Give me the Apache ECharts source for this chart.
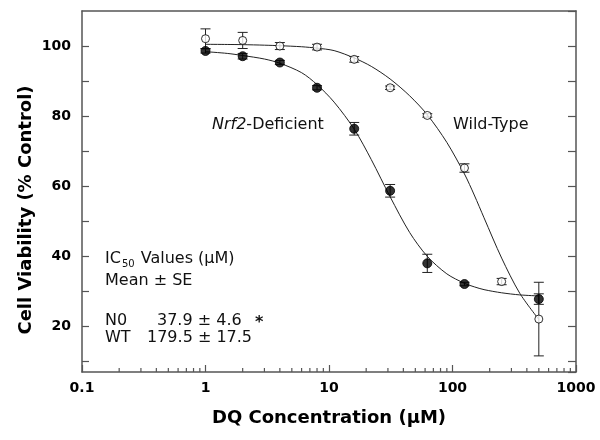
<!DOCTYPE html>
<html><head><meta charset="utf-8">
<script src="https://cdn.jsdelivr.net/npm/echarts@6/dist/echarts.min.js"></script>
<style>html,body{margin:0;padding:0;background:#fff}#c{width:600px;height:440px}</style>
</head><body><div id="c"></div>
<script>
// ---- data ----
const concentrations = [1, 2, 4, 8, 16, 31.25, 62.5, 125, 250, 500];
const nrf2Mean = [98.6, 97.1, 95.3, 88.1, 76.4, 58.7, 38.0, 32.1, null, 27.8];
const nrf2SE   = [0.6, 0.8, 0.6, 0.6, 1.8, 1.8, 2.6, 0.5, null, 1.5];
const wtMean   = [102.1, 101.6, 100.0, 99.7, 96.2, 88.1, 80.2, 65.2, 32.8, 22.1];
const wtSE     = [2.8, 2.3, 1.0, 0.8, 0.8, 0.5, 0.5, 1.2, 0.9, 10.5];

const fitX    = [1, 1.5, 2, 3, 4, 6, 8, 11, 16, 22, 31.25, 45, 62.5, 90, 125, 150, 180, 250, 350, 500];
const nrf2Fit = [98.4, 97.9, 97.3, 96.3, 95.1, 92.4, 89.0, 84.0, 76.3, 67.6, 57.0, 46.8, 40.0, 35.0, 32.3, 31.3, 30.5, 29.6, 29.0, 28.7];
const wtFit   = [100.5, 100.45, 100.4, 100.25, 100.1, 99.8, 99.4, 98.7, 96.6, 94.2, 90.6, 85.8, 80.4, 72.5, 63.5, 57.5, 51.0, 39.5, 29.5, 22.0];

const xTickValues = [0.1, 1, 10, 100, 1000];
const xTickLabels = ['0.1', '1', '10', '100', '1000'];
const xMinorTicks = [0.2,0.3,0.4,0.5,0.6,0.7,0.8,0.9, 2,3,4,5,6,7,8,9, 20,30,40,50,60,70,80,90, 200,300,400,500,600,700,800,900];
const yTickLabels = [20, 40, 60, 80, 100];

const xTitle = 'DQ Concentration (μM)';
const yTitle = 'Cell Viability (% Control)';

// ---- chart ----
const chart = echarts.init(document.getElementById('c'), null, {renderer: 'canvas'});
const AX = '#555';
const TXT = '#111';
const FONT = 'DejaVu Sans';

function errData(mean, se) {
  const out = [];
  concentrations.forEach((x, i) => {
    if (mean[i] != null) out.push([x, mean[i] - se[i], mean[i] + se[i]]);
  });
  return out;
}
function errRender(params, api) {
  const x = api.value(0);
  const lo = api.coord([x, api.value(1)]);
  const hi = api.coord([x, api.value(2)]);
  const w = 5;
  const st = {stroke: '#222', lineWidth: 1};
  return {type: 'group', children: [
    {type: 'line', shape: {x1: lo[0], y1: lo[1], x2: hi[0], y2: hi[1]}, style: st},
    {type: 'line', shape: {x1: lo[0]-w, y1: lo[1], x2: lo[0]+w, y2: lo[1]}, style: st},
    {type: 'line', shape: {x1: hi[0]-w, y1: hi[1], x2: hi[0]+w, y2: hi[1]}, style: st}
  ]};
}
function pts(xs, ys) {
  const out = [];
  xs.forEach((x, i) => { if (ys[i] != null) out.push([x, ys[i]]); });
  return out;
}

const option = {
  animation: false,
  backgroundColor: '#fff',
  grid: {left: 82, right: 24, top: 11, bottom: 68, containLabel: false},
  xAxis: [{
    type: 'log', logBase: 10, min: 0.1, max: 1000,
    axisLine: {show: true, lineStyle: {color: AX, width: 1.5}},
    axisTick: {show: true, inside: true, length: 7, lineStyle: {color: AX, width: 1.2}},
    axisLabel: {margin: 9, color: '#000', fontFamily: FONT, fontWeight: 'bold', fontSize: 14,
      formatter: v => { const k = xTickValues.findIndex(t => Math.abs(Math.log10(t) - Math.log10(v)) < 1e-6); return k >= 0 ? xTickLabels[k] : ''; }},
    splitLine: {show: false},
    name: xTitle, nameLocation: 'middle', nameGap: 37,
    nameTextStyle: {color: '#000', fontFamily: FONT, fontWeight: 'bold', fontSize: 18}
  }, {
    type: 'log', logBase: 10, min: 0.1, max: 1000, position: 'top',
    axisLine: {show: true, lineStyle: {color: AX, width: 1.5}},
    axisTick: {show: false}, axisLabel: {show: false}, splitLine: {show: false}
  }],
  yAxis: [{
    type: 'value', min: 7, max: 110, minInterval: 10, maxInterval: 10, splitNumber: 10,
    axisLine: {show: true, lineStyle: {color: AX, width: 1.5}},
    axisTick: {show: true, inside: true, length: 7, lineStyle: {color: AX, width: 1.2}},
    axisLabel: {margin: 11, color: '#000', fontFamily: FONT, fontWeight: 'bold', fontSize: 14,
      showMinLabel: false, showMaxLabel: false,
      formatter: v => yTickLabels.indexOf(Math.round(v)) >= 0 && Math.abs(v - Math.round(v)) < 1e-6 ? String(Math.round(v)) : ''},
    splitLine: {show: false}
  }, {
    type: 'value', min: 7, max: 110, minInterval: 10, maxInterval: 10, splitNumber: 10, position: 'right',
    axisLine: {show: true, lineStyle: {color: AX, width: 1.5}},
    axisTick: {show: true, inside: true, length: 8, lineStyle: {color: AX, width: 1.2}},
    axisLabel: {show: false}, splitLine: {show: false}
  }],
  graphic: [
    {type: 'text', x: 26, y: 210, rotation: Math.PI / 2,
      style: {text: yTitle, fill: '#000', font: 'bold 18px "DejaVu Sans"', align: 'center', verticalAlign: 'middle'}},
    {type: 'text', x: 212, y: 125,
      style: {text: '{i|Nrf2}{n|-Deficient}', fill: TXT, font: '16px "DejaVu Sans"', verticalAlign: 'middle',
        rich: {i: {fontStyle: 'italic', fontSize: 16, fontFamily: FONT, fill: TXT}, n: {fontSize: 16, fontFamily: FONT, fill: TXT}}}},
    {type: 'text', x: 453, y: 125,
      style: {text: 'Wild-Type', fill: TXT, font: '16px "DejaVu Sans"', verticalAlign: 'middle'}},
    {type: 'text', x: 105, y: 259,
      style: {text: '{a|IC}{s|50}{a| Values (μM)}', fill: TXT, font: '16px "DejaVu Sans"', verticalAlign: 'middle',
        rich: {a: {fontSize: 16, fontFamily: FONT, fill: TXT, lineHeight: 20, verticalAlign: 'middle'},
               s: {fontSize: 10, fontFamily: FONT, fill: TXT, lineHeight: 20, verticalAlign: 'bottom', padding: [0, 1, 0, 1]}}}},
    {type: 'text', x: 105, y: 281,
      style: {text: 'Mean ± SE', fill: TXT, font: '16px "DejaVu Sans"', verticalAlign: 'middle'}},
    {type: 'text', x: 105, y: 321,
      style: {text: 'N0', fill: TXT, font: '16px "DejaVu Sans"', verticalAlign: 'middle'}},
    {type: 'text', x: 157, y: 321,
      style: {text: '37.9 ± 4.6', fill: TXT, font: '16px "DejaVu Sans"', verticalAlign: 'middle'}},
    {type: 'text', x: 255, y: 323,
      style: {text: '*', fill: TXT, font: 'bold 16px "DejaVu Sans"', verticalAlign: 'middle'}},
    {type: 'text', x: 105, y: 338,
      style: {text: 'WT', fill: TXT, font: '16px "DejaVu Sans"', verticalAlign: 'middle'}},
    {type: 'text', x: 147, y: 338,
      style: {text: '179.5 ± 17.5', fill: TXT, font: '16px "DejaVu Sans"', verticalAlign: 'middle'}}
  ],
  series: [
    {type: 'custom', name: 'minorTicks', data: xMinorTicks.map(v => [v, 50]), z: 5, silent: true,
      renderItem: (params, api) => {
        const p = api.coord([api.value(0), api.value(1)]);
        const b = params.coordSys.y + params.coordSys.height;
        return {type: 'line', shape: {x1: p[0], y1: b, x2: p[0], y2: b - 4}, style: {stroke: AX, lineWidth: 1.2}};
      }},
    {type: 'custom', name: 'wtErr', data: errData(wtMean, wtSE), renderItem: errRender, z: 2, silent: true},
    {type: 'custom', name: 'nrf2Err', data: errData(nrf2Mean, nrf2SE), renderItem: errRender, z: 2, silent: true},
    {type: 'line', name: 'wtFit', data: pts(fitX, wtFit), smooth: 0.3, showSymbol: false, z: 3,
      lineStyle: {color: '#222', width: 1}},
    {type: 'line', name: 'nrf2Fit', data: pts(fitX, nrf2Fit), smooth: 0.3, showSymbol: false, z: 3,
      lineStyle: {color: '#222', width: 1}},
    {type: 'scatter', name: 'Nrf2-Deficient', data: pts(concentrations, nrf2Mean), symbol: 'circle', symbolSize: 9, z: 4,
      itemStyle: {color: '#000', borderColor: '#000', borderWidth: 1}},
    {type: 'scatter', name: 'Wild-Type', data: pts(concentrations, wtMean), symbol: 'circle', symbolSize: 8, z: 4,
      itemStyle: {color: '#fff', borderColor: '#000', borderWidth: 1}}
  ]
};
chart.setOption(option);
</script>
</body></html>
